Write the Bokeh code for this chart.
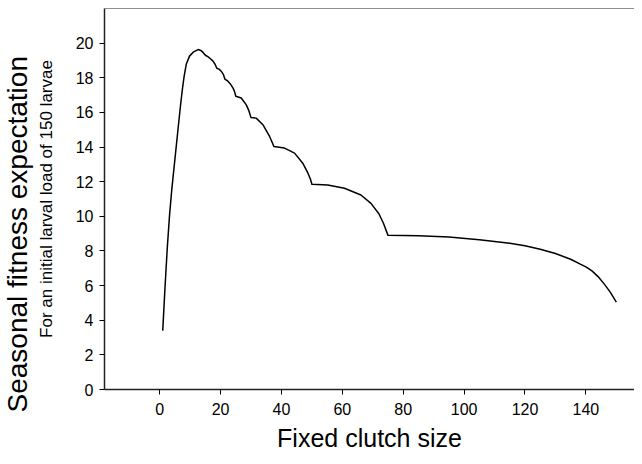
from bokeh.plotting import figure
from bokeh.models import Range1d, Span, FixedTicker, Title
from bokeh.embed import file_html
from bokeh.resources import INLINE

# Data
clutch_size = [1, 1.75, 2.5, 3.25, 4, 5, 6, 6.9, 7.5, 8, 8.75, 9.8, 11, 12.6,
               13.5, 14.3, 15, 15.8, 16.67, 17.5, 18.2, 18.75, 19.5, 20.2,
               20.9, 21.43, 22.4, 23.3, 24.1, 24.6, 25, 26.8, 28.4, 29.3, 30,
               31.7, 33.9, 36.1, 37, 37.5, 41, 44.3, 47, 48.7, 49.5, 50, 55.2,
               60.7, 66.1, 69.4, 72, 73.5, 75, 85, 95, 105, 115, 120, 125, 130,
               135, 138, 140, 142, 144, 146, 148, 150]
fitness = [3.4, 5.9, 8.2, 10.1, 11.6, 13.3, 15.0, 16.5, 17.4, 18.05, 18.8,
           19.25, 19.48, 19.63, 19.58, 19.45, 19.3, 19.22, 19.1, 18.96, 18.78,
           18.55, 18.5, 18.38, 18.2, 17.92, 17.8, 17.62, 17.4, 17.2, 16.93,
           16.83, 16.45, 16.1, 15.7, 15.67, 15.29, 14.61, 14.25, 14.03, 13.94,
           13.65, 13.07, 12.49, 12.15, 11.85, 11.81, 11.62, 11.23, 10.75,
           10.15, 9.6, 8.9, 8.88, 8.8, 8.65, 8.45, 8.3, 8.1, 7.85, 7.52, 7.25,
           7.08, 6.85, 6.52, 6.1, 5.62, 5.05]
x_ticks = [0, 20, 40, 60, 80, 100, 120, 140]
y_ticks = [0, 2, 4, 6, 8, 10, 12, 14, 16, 18, 20]
y_title = "Seasonal fitness expectation"
y_subtitle = "For an initial larval load of 150 larvae"
x_title = "Fixed clutch size"

FONT = "Liberation Sans"

p = figure(width=634, height=456, x_range=Range1d(-18.13, 155.97),
           y_range=Range1d(0, 22), output_backend="svg", toolbar_location=None,
           min_border_left=103, min_border_right=0, min_border_top=8,
           min_border_bottom=67)

p.line(clutch_size, fitness, line_color="black", line_width=1.5,
       line_join="round")

p.grid.visible = False
p.outline_line_color = None
p.add_layout(Span(location=22, dimension="width", line_color="#222222",
                  line_width=1))

p.xaxis.ticker = FixedTicker(ticks=x_ticks)
p.yaxis.ticker = FixedTicker(ticks=y_ticks)
for ax in (p.xaxis[0], p.yaxis[0]):
    ax.major_tick_out = 5
    ax.major_tick_in = 0
    ax.minor_tick_line_color = None
    ax.major_tick_line_color = "black"
    ax.axis_line_color = "#222222"
    ax.axis_line_width = 1.5
    ax.major_label_text_font = FONT
    ax.major_label_text_font_size = "16px"
    ax.major_label_text_color = "black"
    ax.axis_label_text_font = FONT
    ax.axis_label_text_font_style = "normal"
    ax.axis_label_text_color = "black"

p.xaxis.major_label_standoff = 8
p.yaxis.major_label_standoff = 6
p.xaxis.axis_label = x_title
p.xaxis.axis_label_text_font_size = "25px"
p.xaxis.axis_label_standoff = 6

p.yaxis.axis_label = y_subtitle
p.yaxis.axis_label_text_font_size = "17px"
p.yaxis.axis_label_standoff = 17

p.add_layout(Title(text=y_title, align="left", offset=-23,
                   vertical_align="middle", standoff=0,
                   text_font=FONT, text_font_size="28px",
                   text_font_style="normal", text_color="black"), "left")

open("out.html", "w").write(file_html(p, INLINE))
